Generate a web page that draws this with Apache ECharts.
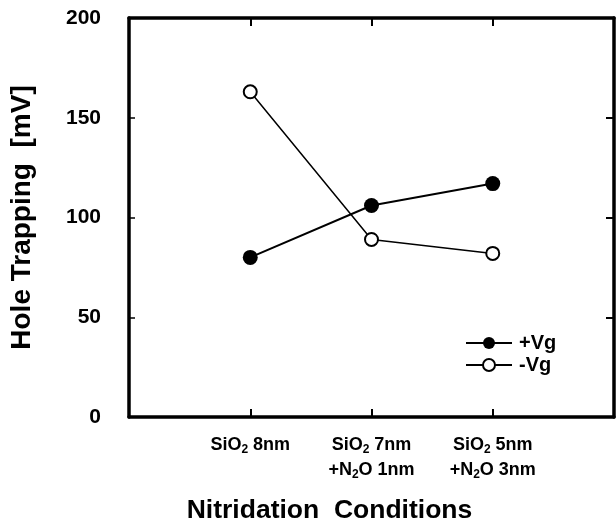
<!DOCTYPE html>
<html>
<head>
<meta charset="utf-8">
<script src="https://cdn.jsdelivr.net/npm/echarts@6/dist/echarts.min.js"></script>
<style>html,body{margin:0;padding:0;background:#fff;}#c{width:616px;height:526px;}</style>
</head>
<body>
<div id="c"></div>
<script>
// categories (x positions 0,1,2)
const categories = ['SiO{s|2} 8nm', 'SiO{s|2} 7nm\n+N{s|2}O 1nm', 'SiO{s|2} 5nm\n+N{s|2}O 3nm'];
const posVg = [80, 106, 117];
const negVg = [163, 89, 82];
const yTicks = [0, 50, 100, 150, 200];
const seriesNames = ['+Vg', '-Vg'];

const chart = echarts.init(document.getElementById('c'));
const font = 'Liberation Sans';
const lineStyleAxis = {color: '#000', width: 3.5};
chart.setOption({
  backgroundColor: '#fff',
  animation: false,
  grid: {left: 129, top: 18, width: 485, height: 399, outerBoundsMode: 'none', containLabel: false},
  legend: {
    orient: 'vertical', left: 460, top: 328, itemWidth: 46, itemHeight: 15, itemGap: 2,
    data: seriesNames,
    textStyle: {fontFamily: font, fontWeight: 'bold', fontSize: 20, color: '#000', padding: [0, 0, 0, 2]}
  },
  xAxis: [{
    type: 'value', min: -1, max: 3, interval: 1, position: 'bottom',
    axisLine: {show: true, onZero: false, lineStyle: lineStyleAxis},
    axisTick: {show: true, inside: true, length: 8, lineStyle: {color: '#000', width: 2}, customValues: [0, 1, 2]},
    splitLine: {show: false},
    axisLabel: {
      customValues: [0, 1, 2], margin: 16,
      formatter: v => categories[v] !== undefined ? categories[v] : '',
      fontFamily: font, fontWeight: 'bold', fontSize: 18, color: '#000', lineHeight: 25,
      rich: {s: {fontFamily: font, fontWeight: 'bold', fontSize: 12, color: '#000', padding: [9, 0, 0, 0]}}
    },
    name: 'Nitridation  Conditions', nameLocation: 'middle', nameGap: 80,
    nameTextStyle: {fontFamily: font, fontWeight: 'bold', fontSize: 26.5, color: '#000', padding: [0, 84, 0, 0]}
  }, {
    type: 'value', min: -1, max: 3, interval: 1, position: 'top',
    axisLine: {show: true, onZero: false, lineStyle: lineStyleAxis},
    axisTick: {show: true, inside: true, length: 8, lineStyle: {color: '#000', width: 2}, customValues: [0, 1, 2]},
    axisLabel: {show: false}, splitLine: {show: false}
  }],
  yAxis: [{
    type: 'value', min: 0, max: 200, interval: 50, position: 'left',
    axisLine: {show: true, onZero: false, lineStyle: lineStyleAxis},
    axisTick: {show: true, inside: true, length: 6, lineStyle: {color: '#000', width: 1.5}, customValues: yTicks.slice(1, 4)},
    splitLine: {show: false},
    axisLabel: {customValues: yTicks, margin: 28, fontFamily: font, fontWeight: 'bold', fontSize: 21, color: '#000'},
    name: 'Hole Trapping  [mV]', nameLocation: 'middle', nameGap: 93,
    nameTextStyle: {fontFamily: font, fontWeight: 'bold', fontSize: 28, color: '#000'}
  }, {
    type: 'value', min: 0, max: 200, interval: 50, position: 'right',
    axisLine: {show: true, onZero: false, lineStyle: lineStyleAxis},
    axisTick: {show: true, inside: true, length: 8, lineStyle: {color: '#000', width: 2}, customValues: yTicks.slice(1, 4)},
    axisLabel: {show: false}, splitLine: {show: false}
  }],
  series: [{
    name: seriesNames[0], type: 'line',
    data: posVg.map((v, i) => [i, v]),
    symbol: 'circle', symbolSize: 15,
    itemStyle: {color: '#000', borderColor: '#000', borderWidth: 0},
    lineStyle: {color: '#000', width: 2}, z: 3
  }, {
    name: seriesNames[1], type: 'line',
    data: negVg.map((v, i) => [i, v]),
    symbol: 'circle', symbolSize: 13,
    itemStyle: {color: '#fff', borderColor: '#000', borderWidth: 2},
    lineStyle: {color: '#000', width: 1.5}, z: 2
  }]
});
</script>
</body>
</html>
